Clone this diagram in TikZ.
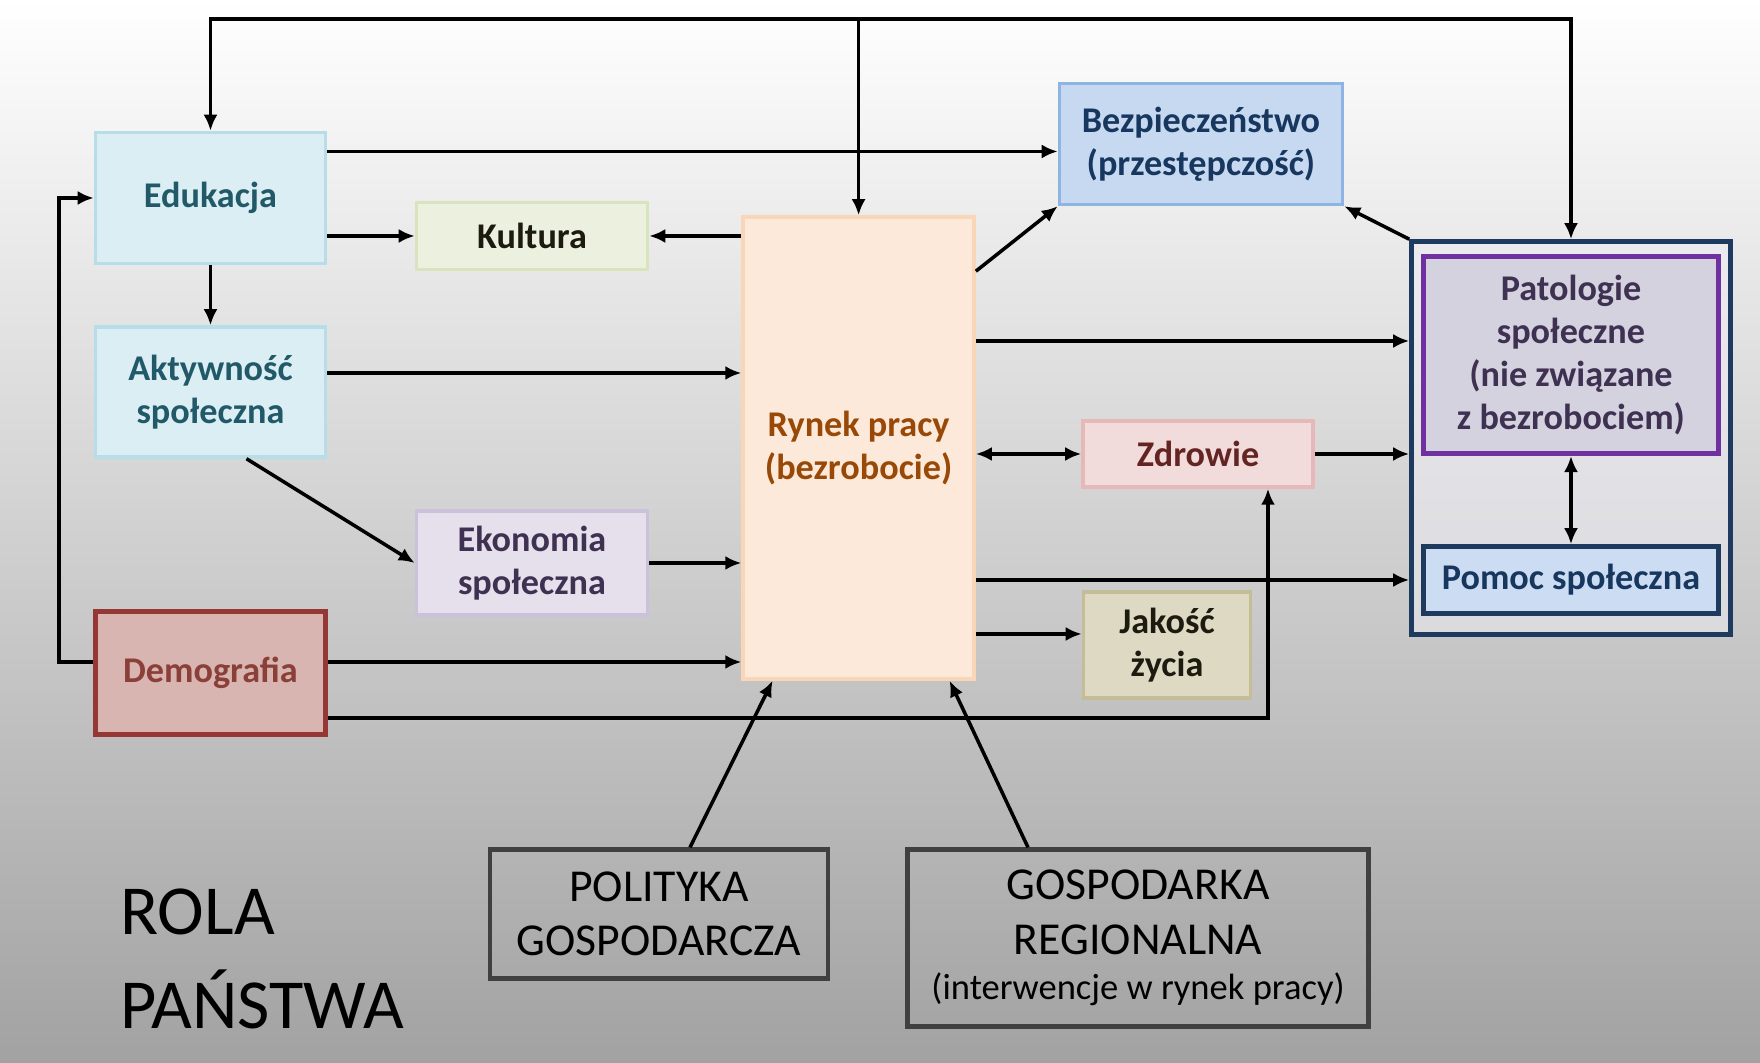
\documentclass[tikz,border=0pt]{standalone}
\usepackage{fontspec}
\setmainfont{Carlito}
\usetikzlibrary{arrows.meta, positioning, calc}
\definecolor{edufill}{HTML}{DAEEF3}
\definecolor{eduline}{HTML}{B7DDE8}
\definecolor{edutext}{HTML}{215968}
\definecolor{kulfill}{HTML}{EBF1DE}
\definecolor{kulline}{HTML}{D7E4BD}
\definecolor{kultext}{HTML}{1D1B10}
\definecolor{ekofill}{HTML}{E5E0EC}
\definecolor{ekoline}{HTML}{CCC1DA}
\definecolor{ekotext}{HTML}{3F3151}
\definecolor{demfill}{HTML}{D8B5B0}
\definecolor{demline}{HTML}{953735}
\definecolor{demtext}{HTML}{8A3F38}
\definecolor{rynfill}{HTML}{FDE9D9}
\definecolor{rynline}{HTML}{FAD6B8}
\definecolor{ryntext}{HTML}{984807}
\definecolor{bezfill}{HTML}{C6D9F1}
\definecolor{bezline}{HTML}{8EB4E3}
\definecolor{beztext}{HTML}{17375E}
\definecolor{zdrfill}{HTML}{F2DCDB}
\definecolor{zdrline}{HTML}{E6B9B8}
\definecolor{zdrtext}{HTML}{632523}
\definecolor{jakfill}{HTML}{DDD9C3}
\definecolor{jakline}{HTML}{C4BD97}
\definecolor{patfill}{HTML}{D5D2E0}
\definecolor{patline}{HTML}{7030A0}
\definecolor{grpfill}{HTML}{EEEEF5}
\definecolor{pomfill}{HTML}{CCDDF3}
\definecolor{navyline}{HTML}{1F3A5F}
\definecolor{rolline}{HTML}{404040}
\definecolor{bgbottom}{HTML}{A2A2A2}
\tikzset{
  blk/.style    = {rectangle, line width=1pt, align=center, inner sep=1pt,
                   font=\fontsize{10.3}{12.3}\selectfont\bfseries},
  edublk/.style = {blk, draw=eduline, fill=edufill, text=edutext},
  kulblk/.style = {blk, draw=kulline, fill=kulfill, text=kultext},
  ekoblk/.style = {blk, draw=ekoline, fill=ekofill, text=ekotext},
  demblk/.style = {blk, draw=demline, fill=demfill, text=demtext, line width=1.3pt},
  rynblk/.style = {blk, draw=rynline, fill=rynfill, text=ryntext},
  bezblk/.style = {blk, draw=bezline, fill=bezfill, text=beztext},
  zdrblk/.style = {blk, draw=zdrline, fill=zdrfill, text=zdrtext},
  jakblk/.style = {blk, draw=jakline, fill=jakfill, text=kultext},
  grpbox/.style = {rectangle, draw=navyline, fill=grpfill, fill opacity=0.5, line width=1.3pt},
  patblk/.style = {blk, draw=patline, fill=patfill, text=ekotext, line width=1.3pt},
  pomblk/.style = {blk, draw=navyline, fill=pomfill, text=beztext, line width=1.3pt},
  rolblk/.style = {rectangle, draw=rolline, line width=1.2pt, align=center, inner sep=1pt,
                   font=\fontsize{13}{15.5}\selectfont},
  flow/.style   = {-{Latex[length=1.6mm, width=1.4mm]}, line width=1pt},
  both/.style   = {{Latex[length=1.6mm, width=1.4mm]}-{Latex[length=1.6mm, width=1.4mm]}, line width=1pt},
}

\begin{document}
\begin{tikzpicture}[x=1mm, y=1mm]
        \shade[top color=white, bottom color=bgbottom] (0,0) rectangle (176,106.3);
        \useasboundingbox (0,0) rectangle (176,106.3);

        % left column
        \node[edublk, minimum width=23mm, minimum height=13.1mm] (edu)  at (21.05,86.5) {Edukacja};
        \node[edublk, minimum width=23mm, minimum height=13mm]   (akt)  at (21.05,67.1) {Aktywność\\społeczna};
        \node[demblk, minimum width=23mm, minimum height=12.3mm] (demo) at (21.05,39.0) {Demografia};
        \node[kulblk, minimum width=23.1mm, minimum height=6.7mm] (kul) at (53.2,82.7) {Kultura};
        \node[ekoblk, minimum width=23.1mm, minimum height=10.4mm] (eko) at (53.2,50.0) {Ekonomia\\społeczna};

        % labour market in the middle
        \node[rynblk, minimum width=23.1mm, minimum height=46.2mm] (ryn) at (85.86,61.5) {Rynek pracy\\(bezrobocie)};

        % right side
        \node[bezblk, minimum width=28.3mm, minimum height=12.1mm] (bez) at (120.1,91.9) {Bezpieczeństwo\\(przestępczość)};
        \node[zdrblk, minimum width=23mm, minimum height=6.6mm]    (zdr) at (119.8,60.9) {Zdrowie};
        \node[jakblk, minimum width=16.7mm, minimum height=10.6mm] (jak) at (116.7,41.8) {Jakość\\życia};
        \node[grpbox, minimum width=31.9mm, minimum height=39.3mm] (grp) at (157.1,62.5) {};
        \node[patblk, minimum width=29.5mm, minimum height=19.75mm] (pat) at (157.1,70.8) {Patologie\\społeczne\\(nie związane\\z bezrobociem)};
        \node[pomblk, minimum width=29.5mm, minimum height=6.7mm]  (pom) at (157.1,48.3) {Pomoc społeczna};

        % state policy
        \node[rolblk, minimum width=33.8mm, minimum height=12.9mm] (pol)  at (65.9,14.9) {POLITYKA\\GOSPODARCZA};
        \node[rolblk, minimum width=46.1mm, minimum height=17.7mm] (gosp) at (113.8,12.5)
            {GOSPODARKA\\REGIONALNA\\[-0.9mm]{\fontsize{10.4}{12}\selectfont(interwencje w rynek pracy)}};
        \node[anchor=west, align=left, font=\fontsize{20}{27}\selectfont] (rola) at (10.8,10.4) {ROLA\\PAŃSTWA};

        % feedback line along the top
        \coordinate (bus) at (ryn.north |- 0,104.4);
        \draw[flow] (bus) -| (edu.north);
        \draw[flow] (bus) -| (grp.north);
        \draw[flow] (bus) -- (ryn.north);

        \draw[flow] ([yshift=4.65mm]edu.east) -- ([yshift=4.65mm]edu.east -| bez.west);
        \draw[flow] (kul.west -| edu.east) -- (kul.west);
        \draw[flow] (ryn.west |- kul.east) -- (kul.east);
        \draw[flow] (edu) -- (akt);
        \draw[flow] ([yshift=1.9mm]akt.east) -- ([yshift=1.9mm]akt.east -| ryn.west);
        \draw[flow] ([xshift=3.6mm]akt.south) -- (eko.west);
        \draw[flow] (eko.east) -- (eko.east -| ryn.west);
        \draw[flow] ([yshift=1.1mm]demo.east) -- ([yshift=1.1mm]demo.east -| ryn.west);
        \draw[flow] ([yshift=1.1mm]demo.west) -- ++(-3.4mm,0) |- (edu.west);
        \draw[flow] ([yshift=-4.5mm]demo.east) -| ([xshift=7mm]zdr.south);

        \draw[flow] ([yshift=-5.6mm]ryn.north east) -- (bez.south west);
        \draw[flow] ([yshift=10.7mm]ryn.east) -- ([yshift=10.7mm]ryn.east -| grp.west);
        \draw[both] (zdr.west -| ryn.east) -- (zdr.west);
        \draw[flow] (zdr.east) -- (zdr.east -| grp.west);
        \draw[flow] (pom.west -| ryn.east) -- (pom.west -| grp.west);
        \draw[flow] ([yshift=1.1mm]jak.west -| ryn.east) -- ([yshift=1.1mm]jak.west);
        \draw[flow] (grp.north west) -- (bez.south east);
        \draw[both] (pat) -- (pom);

        \draw[flow] ([xshift=3.1mm]pol.north) -- ([xshift=-8.6mm]ryn.south);
        \draw[flow] ([xshift=-11mm]gosp.north) -- ([xshift=9.1mm]ryn.south);
    \end{tikzpicture}
\end{document}
